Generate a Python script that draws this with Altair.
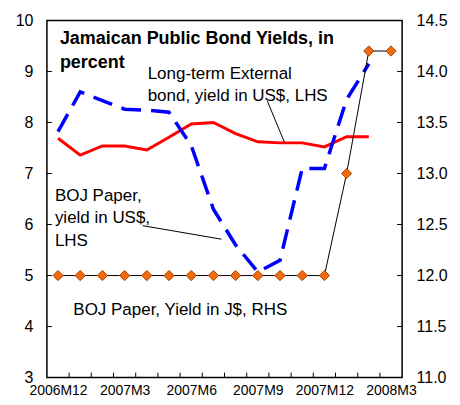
import altair as alt
import pandas as pd

# ---- data ----
months = ["2006M12", "2007M1", "2007M2", "2007M3", "2007M4", "2007M5", "2007M6",
          "2007M7", "2007M8", "2007M9", "2007M10", "2007M11", "2007M12",
          "2008M1", "2008M2", "2008M3"]
label_months = ["2006M12", "2007M3", "2007M6", "2007M9", "2007M12", "2008M3"]
longterm_usd = [7.69, 7.36, 7.54, 7.54, 7.46, 7.71, 7.97, 8.00, 7.78, 7.62,
                7.60, 7.60, 7.52, 7.72, 7.72, None]
boj_usd = [7.82, 8.60, 8.43, 8.26, 8.24, 8.20, 7.55, 6.30, 5.60, 5.07,
           5.30, 7.10, 7.10, 8.45, 9.15, None]
boj_jmd = [12.0, 12.0, 12.0, 12.0, 12.0, 12.0, 12.0, 12.0, 12.0, 12.0,
           12.0, 12.0, 12.0, 13.0, 14.2, 14.2]
left_ticks = [3, 4, 5, 6, 7, 8, 9, 10]
right_ticks = [11.0, 11.5, 12.0, 12.5, 13.0, 13.5, 14.0, 14.5]

df = pd.DataFrame({
    "idx": list(range(len(months))),
    "month": months,
    "lt": longterm_usd,
    "bu": boj_usd,
    "bj": boj_jmd,
})

W, H = 356, 358
FONT = "Liberation Sans"

label_idx = [i for i, m in enumerate(months) if m in label_months]
label_expr = "".join(f"datum.value == {i} ? '{months[i]}' : " for i in label_idx) + "''"
xs = alt.Scale(domain=[-0.5, len(months) - 0.5], nice=False, zero=False)
x_axis = alt.Axis(values=label_idx, labelExpr=label_expr,
                  ticks=False, domain=False, grid=False, title=None,
                  labelFont=FONT, labelFontSize=14, labelColor="black",
                  labelPadding=5.5, labelOverlap=False, labelFlush=False)


def xenc(field="idx"):
    return alt.X(f"{field}:Q", scale=xs, axis=x_axis, title=None)


ysl = alt.Scale(domain=[3, 10], nice=False, zero=False)
ysr = alt.Scale(domain=[11, 14.5], nice=False, zero=False)
axis_l = alt.Axis(values=left_ticks, orient="left", ticks=False, domain=False,
                  grid=False, title=None, labelFont=FONT, labelFontSize=16,
                  labelColor="black", labelPadding=14)
axis_r = alt.Axis(values=right_ticks, orient="right", format=".1f", ticks=False,
                  domain=False, grid=False, title=None, labelFont=FONT,
                  labelFontSize=16, labelColor="black", labelPadding=14)

base = alt.Chart(df)
one = alt.Chart(pd.DataFrame({"d": [0]}))

red = base.mark_line(color="#FF0000", strokeWidth=3).encode(
    x=xenc(), y=alt.Y("lt:Q", scale=ysl, axis=axis_l),
)
blue = base.mark_line(color="#0000FF", strokeWidth=3.5, strokeDash=[20, 10]).encode(
    x=xenc(), y=alt.Y("bu:Q", scale=ysl, axis=axis_l),
)
lt_df = pd.DataFrame({"v": left_ticks[1:-1]})
lticks = alt.Chart(lt_df).mark_rule(color="black", strokeWidth=1).encode(
    y=alt.Y("v:Q", scale=ysl, axis=axis_l), x=alt.value(0), x2=alt.value(5))
bticks = base.transform_filter("datum.idx > 0").transform_calculate(
    b="datum.idx - 0.5").mark_rule(color="black", strokeWidth=1).encode(
    x=xenc("b"), y=alt.value(H - 5), y2=alt.value(H))

txt = dict(font=FONT, fontSize=17, color="black", align="left",
           baseline="alphabetic", lineHeight=22)
title_t = one.mark_text(text=["Jamaican Public Bond Yields, in", "percent"],
                        font=FONT, fontSize=18, fontWeight="bold", color="black",
                        align="left", baseline="alphabetic", lineHeight=24.5).encode(
    x=alt.value(13), y=alt.value(23.5))
lt_t = one.mark_text(text=["Long-term External", "bond, yield in US$, LHS"], **txt).encode(
    x=alt.value(101), y=alt.value(58.5))
bu_t = one.mark_text(text=["BOJ Paper,", "yield in US$,", "LHS"],
                     **{**txt, "lineHeight": 22.5}).encode(
    x=alt.value(8), y=alt.value(180.7))
bj_t = one.mark_text(text="BOJ Paper, Yield in J$, RHS", **txt).encode(
    x=alt.value(26.5), y=alt.value(295))
lead1 = one.mark_rule(color="black", strokeWidth=1).encode(
    x=alt.value(221), y=alt.value(81), x2=alt.value(238), y2=alt.value(122))
lead2 = one.mark_rule(color="black", strokeWidth=1).encode(
    x=alt.value(96), y=alt.value(205.7), x2=alt.value(175), y2=alt.value(219.3))

left_group = alt.layer(red, blue, lticks, bticks, title_t, lt_t, bu_t, bj_t,
                       lead1, lead2)

blk = base.mark_line(color="black", strokeWidth=1).encode(
    x=xenc(), y=alt.Y("bj:Q", scale=ysr, axis=axis_r),
)
dia = base.mark_point(shape="diamond", filled=True, size=105, fill="#F26A0F",
                      stroke="#A84300", strokeWidth=1, opacity=1).encode(
    x=xenc(), y=alt.Y("bj:Q", scale=ysr, axis=axis_r),
)
rt_df = pd.DataFrame({"v": right_ticks[1:-1]})
rticks = alt.Chart(rt_df).mark_rule(color="black", strokeWidth=1).encode(
    y=alt.Y("v:Q", scale=ysr, axis=axis_r), x=alt.value(W - 5), x2=alt.value(W))
right_group = alt.layer(blk, rticks, dia)

chart = alt.layer(left_group, right_group).resolve_scale(y="independent").properties(
    width=W, height=H,
    autosize=alt.AutoSizeParams(type="none"),
    padding={"left": 39, "top": 12, "right": 50, "bottom": 19},
    background="white",
).configure_view(stroke="black", strokeWidth=1.5)

chart.save("out.html", embed_options={"renderer": "svg", "actions": False})
